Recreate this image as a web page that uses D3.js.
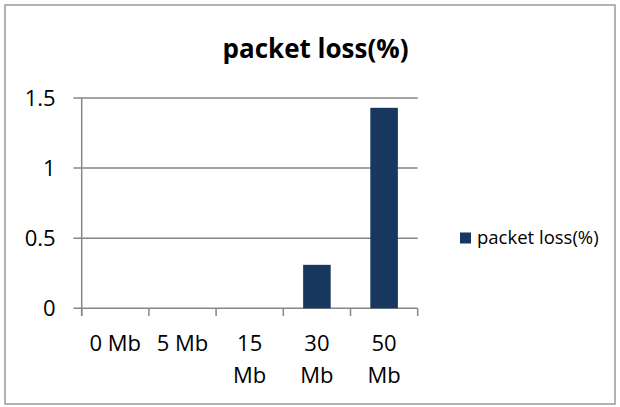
<!DOCTYPE html>
<html>
<head>
<meta charset="utf-8">
<script src="https://cdn.jsdelivr.net/npm/d3@7.9.0/dist/d3.min.js"></script>
<style>
  body { margin: 0; background: #fff; }
  svg { display: block; font-family: 'Open Sans', sans-serif; }
</style>
</head>
<body>
<svg id="chart" width="620" height="407"></svg>
<script>
// data
const categories = ['0 Mb', '5 Mb', '15 Mb', '30 Mb', '50 Mb'];
const lossValues = [0, 0, 0, 0.31, 1.43];
const yTicks = [0, 0.5, 1, 1.5];
const seriesName = 'packet loss(%)';

const svg = d3.select('#chart');
const gridColor = '#868686';
const barColor = '#17375E';

// outer frame
svg.append('rect')
    .attr('x', 5).attr('y', 5)
    .attr('width', 610).attr('height', 399)
    .attr('fill', 'none')
    .attr('stroke', '#9a9a9a')
    .attr('stroke-width', 1.5);

let x = d3.scaleBand()
    .domain(categories)
    .range([81.7, 417.7])
    .paddingInner(0.59)
    .paddingOuter(0.295);

let y = d3.scaleLinear().domain([0, 1.5]).range([308.3, 98]);

// gridlines
svg.append('g')
    .selectAll('line')
    .data(yTicks)
    .join('line')
    .attr('x1', 73.5).attr('x2', 417.7)
    .attr('y1', (d) => y(d)).attr('y2', (d) => y(d))
    .attr('stroke', gridColor)
    .attr('stroke-width', 1.5);

// y axis
let yAxis = svg.append('g')
    .attr('transform', 'translate(81.7,0)')
    .call(d3.axisLeft(y).tickValues(yTicks).tickSize(8).tickPadding(18).tickFormat(d3.format('')));
yAxis.select('.domain').remove();
yAxis.selectAll('line').remove();
yAxis.selectAll('text')
    .attr('font-size', 22)
    .attr('fill', '#000')
    .attr('font-family', 'Open Sans');

svg.append('line')
    .attr('x1', 81.7).attr('x2', 81.7)
    .attr('y1', 98).attr('y2', 316)
    .attr('stroke', gridColor)
    .attr('stroke-width', 1.5);

// bars
svg.append('g')
    .selectAll('rect')
    .data(lossValues)
    .join('rect')
    .attr('x', (d, i) => x(categories[i]))
    .attr('width', x.bandwidth())
    .attr('y', (d) => y(d))
    .attr('height', (d) => y(0) - y(d))
    .attr('fill', barColor);

// x axis ticks at category boundaries
let step = x.step();
let edges = d3.range(categories.length + 1).map((i) => 81.7 + i * step);
svg.append('g')
    .selectAll('line')
    .data(edges)
    .join('line')
    .attr('x1', (d) => d).attr('x2', (d) => d)
    .attr('y1', y(0)).attr('y2', 316)
    .attr('stroke', gridColor)
    .attr('stroke-width', 1.5);

// x labels, wrapped like the original
let xLabels = svg.append('g')
    .selectAll('text')
    .data(categories)
    .join('text')
    .attr('x', (d) => x(d) + x.bandwidth() / 2)
    .attr('y', 351)
    .attr('text-anchor', 'middle')
    .attr('font-size', 22)
    .attr('fill', '#000');

xLabels.each(function (d) {
    let t = d3.select(this);
    t.text(d);
    if (this.getComputedTextLength() > 60) {
        let parts = d.split(' ');
        t.text(null);
        parts.forEach((p, j) => {
            t.append('tspan')
                .attr('x', x(d) + x.bandwidth() / 2)
                .attr('dy', j === 0 ? 0 : 32)
                .text(p);
        });
    }
});

// title
svg.append('text')
    .attr('x', 315.5)
    .attr('y', 58)
    .attr('text-anchor', 'middle')
    .attr('font-size', 26)
    .attr('font-weight', 'bold')
    .attr('fill', '#000')
    .text(seriesName);

// legend
let legend = svg.append('g').attr('transform', 'translate(460,238)');
legend.append('rect')
    .attr('x', 0).attr('y', -5.5)
    .attr('width', 11).attr('height', 11)
    .attr('fill', barColor);
legend.append('text')
    .attr('x', 17)
    .attr('y', 0)
    .attr('dy', '0.35em')
    .attr('font-size', 18.5)
    .attr('fill', '#000')
    .text(seriesName);
</script>
</body>
</html>
